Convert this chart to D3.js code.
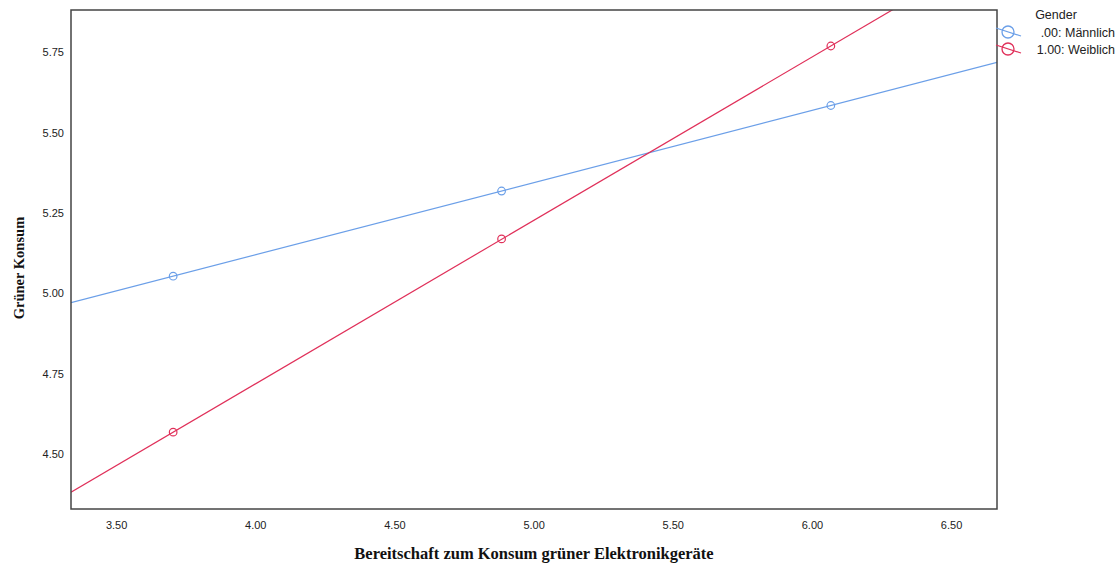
<!DOCTYPE html>
<html>
<head>
<meta charset="utf-8">
<script src="https://cdn.jsdelivr.net/npm/d3@7"></script>
<style>
  html, body { margin: 0; padding: 0; background: #fff; }
  svg { display: block; }
</style>
</head>
<body>
<svg id="chart" width="1119" height="563"></svg>
<script>
// Predictor values (x) at which the simple slopes are evaluated
const xValues = [3.705, 4.885, 6.068];
// Predicted "Grüner Konsum" per gender group
const seriesNames = [".00: Männlich", "1.00: Weiblich"];
const maleValues = [5.053, 5.318, 5.584];
const femaleValues = [4.568, 5.169, 5.769];
const seriesColors = ["#6b9fe8", "#e0305a"];
// Axis ticks
const xTicks = [3.5, 4.0, 4.5, 5.0, 5.5, 6.0, 6.5];
const yTicks = [4.5, 4.75, 5.0, 5.25, 5.5, 5.75];

const svg = d3.select("#chart");
const plot = { left: 71, top: 10, right: 997, bottom: 509 };

const x = d3.scaleLinear().domain([3.338, 6.665]).range([plot.left, plot.right]);
const y = d3.scaleLinear().domain([4.329, 5.881]).range([plot.bottom, plot.top]);

const series = [maleValues, femaleValues].map((vals, i) => ({
  name: seriesNames[i],
  color: seriesColors[i],
  points: xValues.map((xv, j) => ({ x: xv, y: vals[j] }))
}));

svg.append("defs").append("clipPath").attr("id", "plotClip")
  .append("rect")
  .attr("x", plot.left).attr("y", plot.top)
  .attr("width", plot.right - plot.left).attr("height", plot.bottom - plot.top);

// Axes (tick labels only, no tick marks)
const xAxis = svg.append("g")
  .attr("transform", `translate(0,${plot.bottom})`)
  .call(d3.axisBottom(x).tickValues(xTicks).tickFormat(d3.format(".2f")).tickSize(0).tickPadding(12));
const yAxis = svg.append("g")
  .attr("transform", `translate(${plot.left},0)`)
  .call(d3.axisLeft(y).tickValues(yTicks).tickFormat(d3.format(".2f")).tickSize(0).tickPadding(7));
[xAxis, yAxis].forEach(g => {
  g.select(".domain").remove();
  g.selectAll("text")
    .attr("font-family", "'Liberation Sans', Arial, sans-serif")
    .attr("font-size", 11)
    .attr("fill", "#222");
});

// Fitted lines extended across the plot, clipped to the frame
const lines = svg.append("g").attr("clip-path", "url(#plotClip)");
const [x0, x1] = x.domain();
series.forEach(s => {
  const p = s.points, a = p[0], b = p[p.length - 1];
  const slope = (b.y - a.y) / (b.x - a.x);
  const ends = [x0, x1].map(xv => ({ x: xv, y: a.y + slope * (xv - a.x) }));
  lines.append("line")
    .attr("x1", x(ends[0].x)).attr("y1", y(ends[0].y))
    .attr("x2", x(ends[1].x)).attr("y2", y(ends[1].y))
    .attr("stroke", s.color).attr("stroke-width", 1.2);
  lines.selectAll(null).data(p).enter().append("circle")
    .attr("cx", d => x(d.x)).attr("cy", d => y(d.y)).attr("r", 3.8)
    .attr("fill", "none").attr("stroke", s.color).attr("stroke-width", 1.2);
});

// Frame
svg.append("rect")
  .attr("x", plot.left).attr("y", plot.top)
  .attr("width", plot.right - plot.left).attr("height", plot.bottom - plot.top)
  .attr("fill", "none").attr("stroke", "#444").attr("stroke-width", 1.5);

// Axis titles
svg.append("text")
  .attr("x", 534).attr("y", 559).attr("text-anchor", "middle")
  .attr("font-family", "'Liberation Serif', 'Times New Roman', serif")
  .attr("font-weight", "bold").attr("font-size", 16.5).attr("fill", "#111")
  .text("Bereitschaft zum Konsum grüner Elektronikgeräte");
svg.append("text")
  .attr("transform", "translate(24,268) rotate(-90)").attr("text-anchor", "middle")
  .attr("font-family", "'Liberation Serif', 'Times New Roman', serif")
  .attr("font-weight", "bold").attr("font-size", 14.5).attr("fill", "#111")
  .text("Grüner Konsum");

// Legend
const legend = svg.append("g");
legend.append("text")
  .attr("x", 1056).attr("y", 19).attr("text-anchor", "middle")
  .attr("font-family", "'Liberation Sans', Arial, sans-serif").attr("font-size", 12.5).attr("fill", "#222")
  .text("Gender");
series.forEach((s, i) => {
  const cy = 32 + i * 17;
  legend.append("line")
    .attr("x1", 996).attr("y1", cy - 4).attr("x2", 1021).attr("y2", cy + 4)
    .attr("stroke", s.color).attr("stroke-width", 1.2);
  legend.append("circle")
    .attr("cx", 1008).attr("cy", cy).attr("r", 6)
    .attr("fill", "none").attr("stroke", s.color).attr("stroke-width", 1.3);
  legend.append("text")
    .attr("x", 1115).attr("y", cy + 4.5).attr("text-anchor", "end")
    .attr("font-family", "'Liberation Sans', Arial, sans-serif").attr("font-size", 12.5).attr("fill", "#222")
    .text(s.name);
});
</script>
</body>
</html>
